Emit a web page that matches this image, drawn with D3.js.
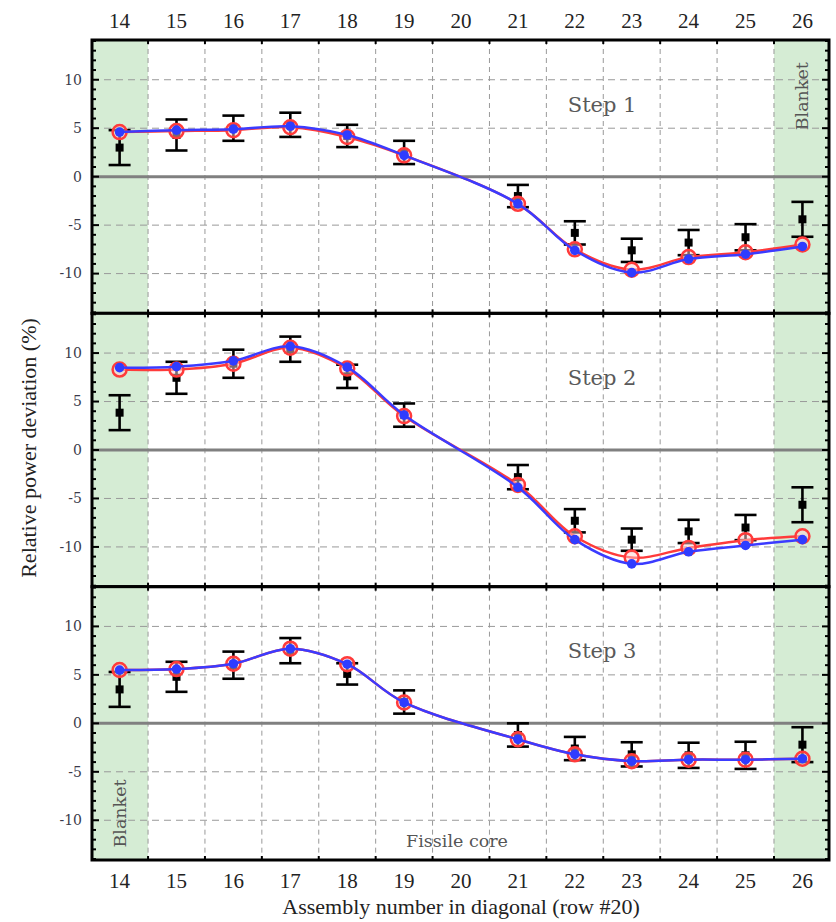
<!DOCTYPE html>
<html><head><meta charset="utf-8">
<script src="https://cdn.jsdelivr.net/npm/d3@7"></script>
<style>body{margin:0;background:#fff}svg{display:block}</style>
</head><body>
<svg id="c" width="836" height="922"></svg>
<script>
const assemblies = [14,15,16,17,18,19,21,22,23,24,25,26];
const xTickLabels = [14,15,16,17,18,19,20,21,22,23,24,25,26];
const yTickValues = [-10,-5,0,5,10];
const stepLabels = ["Step 1","Step 2","Step 3"];

const calcRed1  = [4.6, 4.7, 4.8, 5.1, 4.1, 2.2, -2.8, -7.5, -9.6, -8.3, -7.8, -7.0];
const calcBlue1 = [4.6, 4.8, 4.9, 5.2, 4.3, 2.2, -2.8, -7.6, -9.9, -8.5, -8.0, -7.2];
const meas1     = [3.0, 4.3, 5.0, 5.35, 4.2, 2.5, -2.0, -5.8, -7.6, -6.8, -6.25, -4.4];
const err1      = [1.8, 1.6, 1.3, 1.25, 1.15, 1.2, 1.15, 1.2, 1.2, 1.3, 1.35, 1.8];

const calcRed2  = [8.3, 8.3, 8.9, 10.55, 8.4, 3.5, -3.6, -8.9, -11.1, -10.1, -9.3, -8.9];
const calcBlue2 = [8.5, 8.6, 9.2, 10.7, 8.55, 3.6, -3.85, -9.25, -11.75, -10.5, -9.85, -9.25];
const meas2     = [3.85, 7.45, 8.9, 10.4, 7.6, 3.6, -2.8, -7.3, -9.25, -8.4, -8.0, -5.65];
const err2      = [1.8, 1.65, 1.45, 1.3, 1.2, 1.2, 1.25, 1.2, 1.15, 1.2, 1.3, 1.8];

const calcRed3  = [5.5, 5.6, 6.15, 7.7, 6.1, 2.15, -1.65, -3.2, -3.9, -3.75, -3.75, -3.65];
const calcBlue3 = [5.5, 5.6, 6.15, 7.7, 6.1, 2.15, -1.65, -3.2, -3.9, -3.75, -3.75, -3.65];
const meas3     = [3.5, 4.8, 6.0, 7.5, 5.1, 2.2, -1.2, -2.6, -3.2, -3.3, -3.3, -2.2];
const err3      = [1.8, 1.55, 1.4, 1.3, 1.1, 1.2, 1.2, 1.2, 1.25, 1.3, 1.4, 1.8];

const panels = [
  {red: calcRed1, blue: calcBlue1, meas: meas1, err: err1, label: stepLabels[0]},
  {red: calcRed2, blue: calcBlue2, meas: meas2, err: err2, label: stepLabels[1]},
  {red: calcRed3, blue: calcBlue3, meas: meas3, err: err3, label: stepLabels[2]}
];

const svg = d3.select("#c");
const L = 92, R = 829, T = 40, B = 860;
const ph = (B - T) / 3;
const x = d3.scaleLinear().domain([13.515, 26.467]).range([L, R]);
const serif = "Liberation Serif, Times New Roman, DejaVu Serif, serif";
const wide = "DejaVu Serif, serif";

panels.forEach((p, i) => {
  const top = T + i * ph, bot = top + ph;
  const y = d3.scaleLinear().domain([-14.1, 14.1]).range([bot, top]);
  const g = svg.append("g");

  g.append("rect").attr("x", x(13.515)).attr("y", top).attr("width", x(14.5) - x(13.515)).attr("height", ph).attr("fill", "#d5ecd4");
  g.append("rect").attr("x", x(25.5)).attr("y", top).attr("width", x(26.467) - x(25.5)).attr("height", ph).attr("fill", "#d5ecd4");

  const vgrid = d3.range(14.5, 26, 1);
  g.selectAll(".vg").data(vgrid).join("line")
    .attr("x1", d => x(d)).attr("x2", d => x(d)).attr("y1", top).attr("y2", bot)
    .attr("stroke", "#999").attr("stroke-width", 1).attr("stroke-dasharray", "5,4");
  g.selectAll(".hg").data([-10, -5, 5, 10]).join("line")
    .attr("x1", L).attr("x2", R).attr("y1", d => y(d)).attr("y2", d => y(d))
    .attr("stroke", "#999").attr("stroke-width", 1).attr("stroke-dasharray", "7,5");
  g.append("line").attr("x1", L).attr("x2", R).attr("y1", y(0)).attr("y2", y(0))
    .attr("stroke", "#808080").attr("stroke-width", 3);

  const yt = d3.range(-14, 15, 1);
  [L, R].forEach(xx => {
    const dir = xx === L ? 1 : -1;
    g.selectAll(null).data(yt).join("line")
      .attr("x1", xx).attr("x2", d => xx + dir * (d % 5 === 0 ? 7 : 4))
      .attr("y1", d => y(d)).attr("y2", d => y(d))
      .attr("stroke", "#000").attr("stroke-width", 2);
  });
  [top, bot].forEach(yy => {
    const dir = yy === top ? 1 : -1;
    g.selectAll(null).data(vgrid).join("line")
      .attr("x1", d => x(d)).attr("x2", d => x(d)).attr("y1", yy).attr("y2", yy + dir * 4)
      .attr("stroke", "#000").attr("stroke-width", 2);
  });

  g.selectAll(null).data(yTickValues).join("text")
    .attr("x", 82).attr("y", d => y(d)).attr("dy", "0.35em")
    .attr("text-anchor", "end").attr("font-family", wide).attr("font-size", 14)
    .attr("fill", "#3a3a4a").text(d => d);

  g.append("text").attr("x", x(22.48)).attr("y", y(7.45)).attr("dy", "0.35em")
    .attr("text-anchor", "middle").attr("font-family", wide).attr("font-size", 21)
    .attr("fill", "#5a5a5a").text(p.label);

  const ed = assemblies.map((a, k) => ({a, m: p.meas[k], e: p.err[k]}));
  const eg = g.append("g").attr("stroke", "#000").attr("stroke-width", 2.6);
  eg.selectAll(null).data(ed).join("line")
    .attr("x1", d => x(d.a)).attr("x2", d => x(d.a)).attr("y1", d => y(d.m - d.e)).attr("y2", d => y(d.m + d.e));
  eg.selectAll(null).data(ed).join("line")
    .attr("x1", d => x(d.a) - 11).attr("x2", d => x(d.a) + 11).attr("y1", d => y(d.m - d.e)).attr("y2", d => y(d.m - d.e));
  eg.selectAll(null).data(ed).join("line")
    .attr("x1", d => x(d.a) - 11).attr("x2", d => x(d.a) + 11).attr("y1", d => y(d.m + d.e)).attr("y2", d => y(d.m + d.e));
  g.selectAll(null).data(ed).join("rect")
    .attr("x", d => x(d.a) - 4).attr("y", d => y(d.m) - 4).attr("width", 8).attr("height", 8).attr("fill", "#000");

  const line = d3.line().x(d => x(d[0])).y(d => y(d[1])).curve(d3.curveCatmullRom.alpha(0.5));
  const rd = assemblies.map((a, k) => [a, p.red[k]]);
  const bd = assemblies.map((a, k) => [a, p.blue[k]]);
  g.append("path").attr("d", line(rd)).attr("fill", "none").attr("stroke", "#ff3b3b").attr("stroke-width", 2.5);
  g.selectAll(null).data(rd).join("circle")
    .attr("cx", d => x(d[0])).attr("cy", d => y(d[1])).attr("r", 7)
    .attr("fill", "#ffd0d0").attr("fill-opacity", 0.5).attr("stroke", "#ff3b3b").attr("stroke-width", 2.5);
  g.append("path").attr("d", line(bd)).attr("fill", "none").attr("stroke", "#3b3bff").attr("stroke-width", 2.5);
  g.selectAll(null).data(bd).join("circle")
    .attr("cx", d => x(d[0])).attr("cy", d => y(d[1])).attr("r", 4.8).attr("fill", "#2f3cff");

  g.append("rect").attr("x", L).attr("y", top).attr("width", R - L).attr("height", ph)
    .attr("fill", "none").attr("stroke", "#000").attr("stroke-width", 3);

  if (i === 0) {
    g.append("text").attr("transform", `translate(${x(26)+6},${y(8.3)}) rotate(-90)`)
      .attr("text-anchor", "middle").attr("font-family", wide).attr("font-size", 17.5)
      .attr("fill", "#555").text("Blanket");
  }
  if (i === 2) {
    g.append("text").attr("transform", `translate(${x(14)+6},${y(-9.3)}) rotate(-90)`)
      .attr("text-anchor", "middle").attr("font-family", wide).attr("font-size", 17.5)
      .attr("fill", "#555").text("Blanket");
    g.append("text").attr("x", x(19.93)).attr("y", y(-12.8))
      .attr("text-anchor", "middle").attr("font-family", wide).attr("font-size", 17.5)
      .attr("fill", "#555").text("Fissile core");
  }
});

[28, 888].forEach(yy => {
  svg.selectAll(null).data(xTickLabels).join("text")
    .attr("x", d => x(d)).attr("y", yy).attr("text-anchor", "middle")
    .attr("font-family", serif).attr("font-size", 21).attr("fill", "#222").text(d => d);
});

svg.append("text").attr("x", x(20)).attr("y", 914).attr("text-anchor", "middle")
  .attr("font-family", serif).attr("font-size", 22).attr("fill", "#222")
  .text("Assembly number in diagonal (row #20)");
svg.append("text").attr("transform", "translate(36,448) rotate(-90)").attr("text-anchor", "middle")
  .attr("font-family", serif).attr("font-size", 22).attr("fill", "#222")
  .text("Relative power deviation (%)");
</script>
</body></html>
